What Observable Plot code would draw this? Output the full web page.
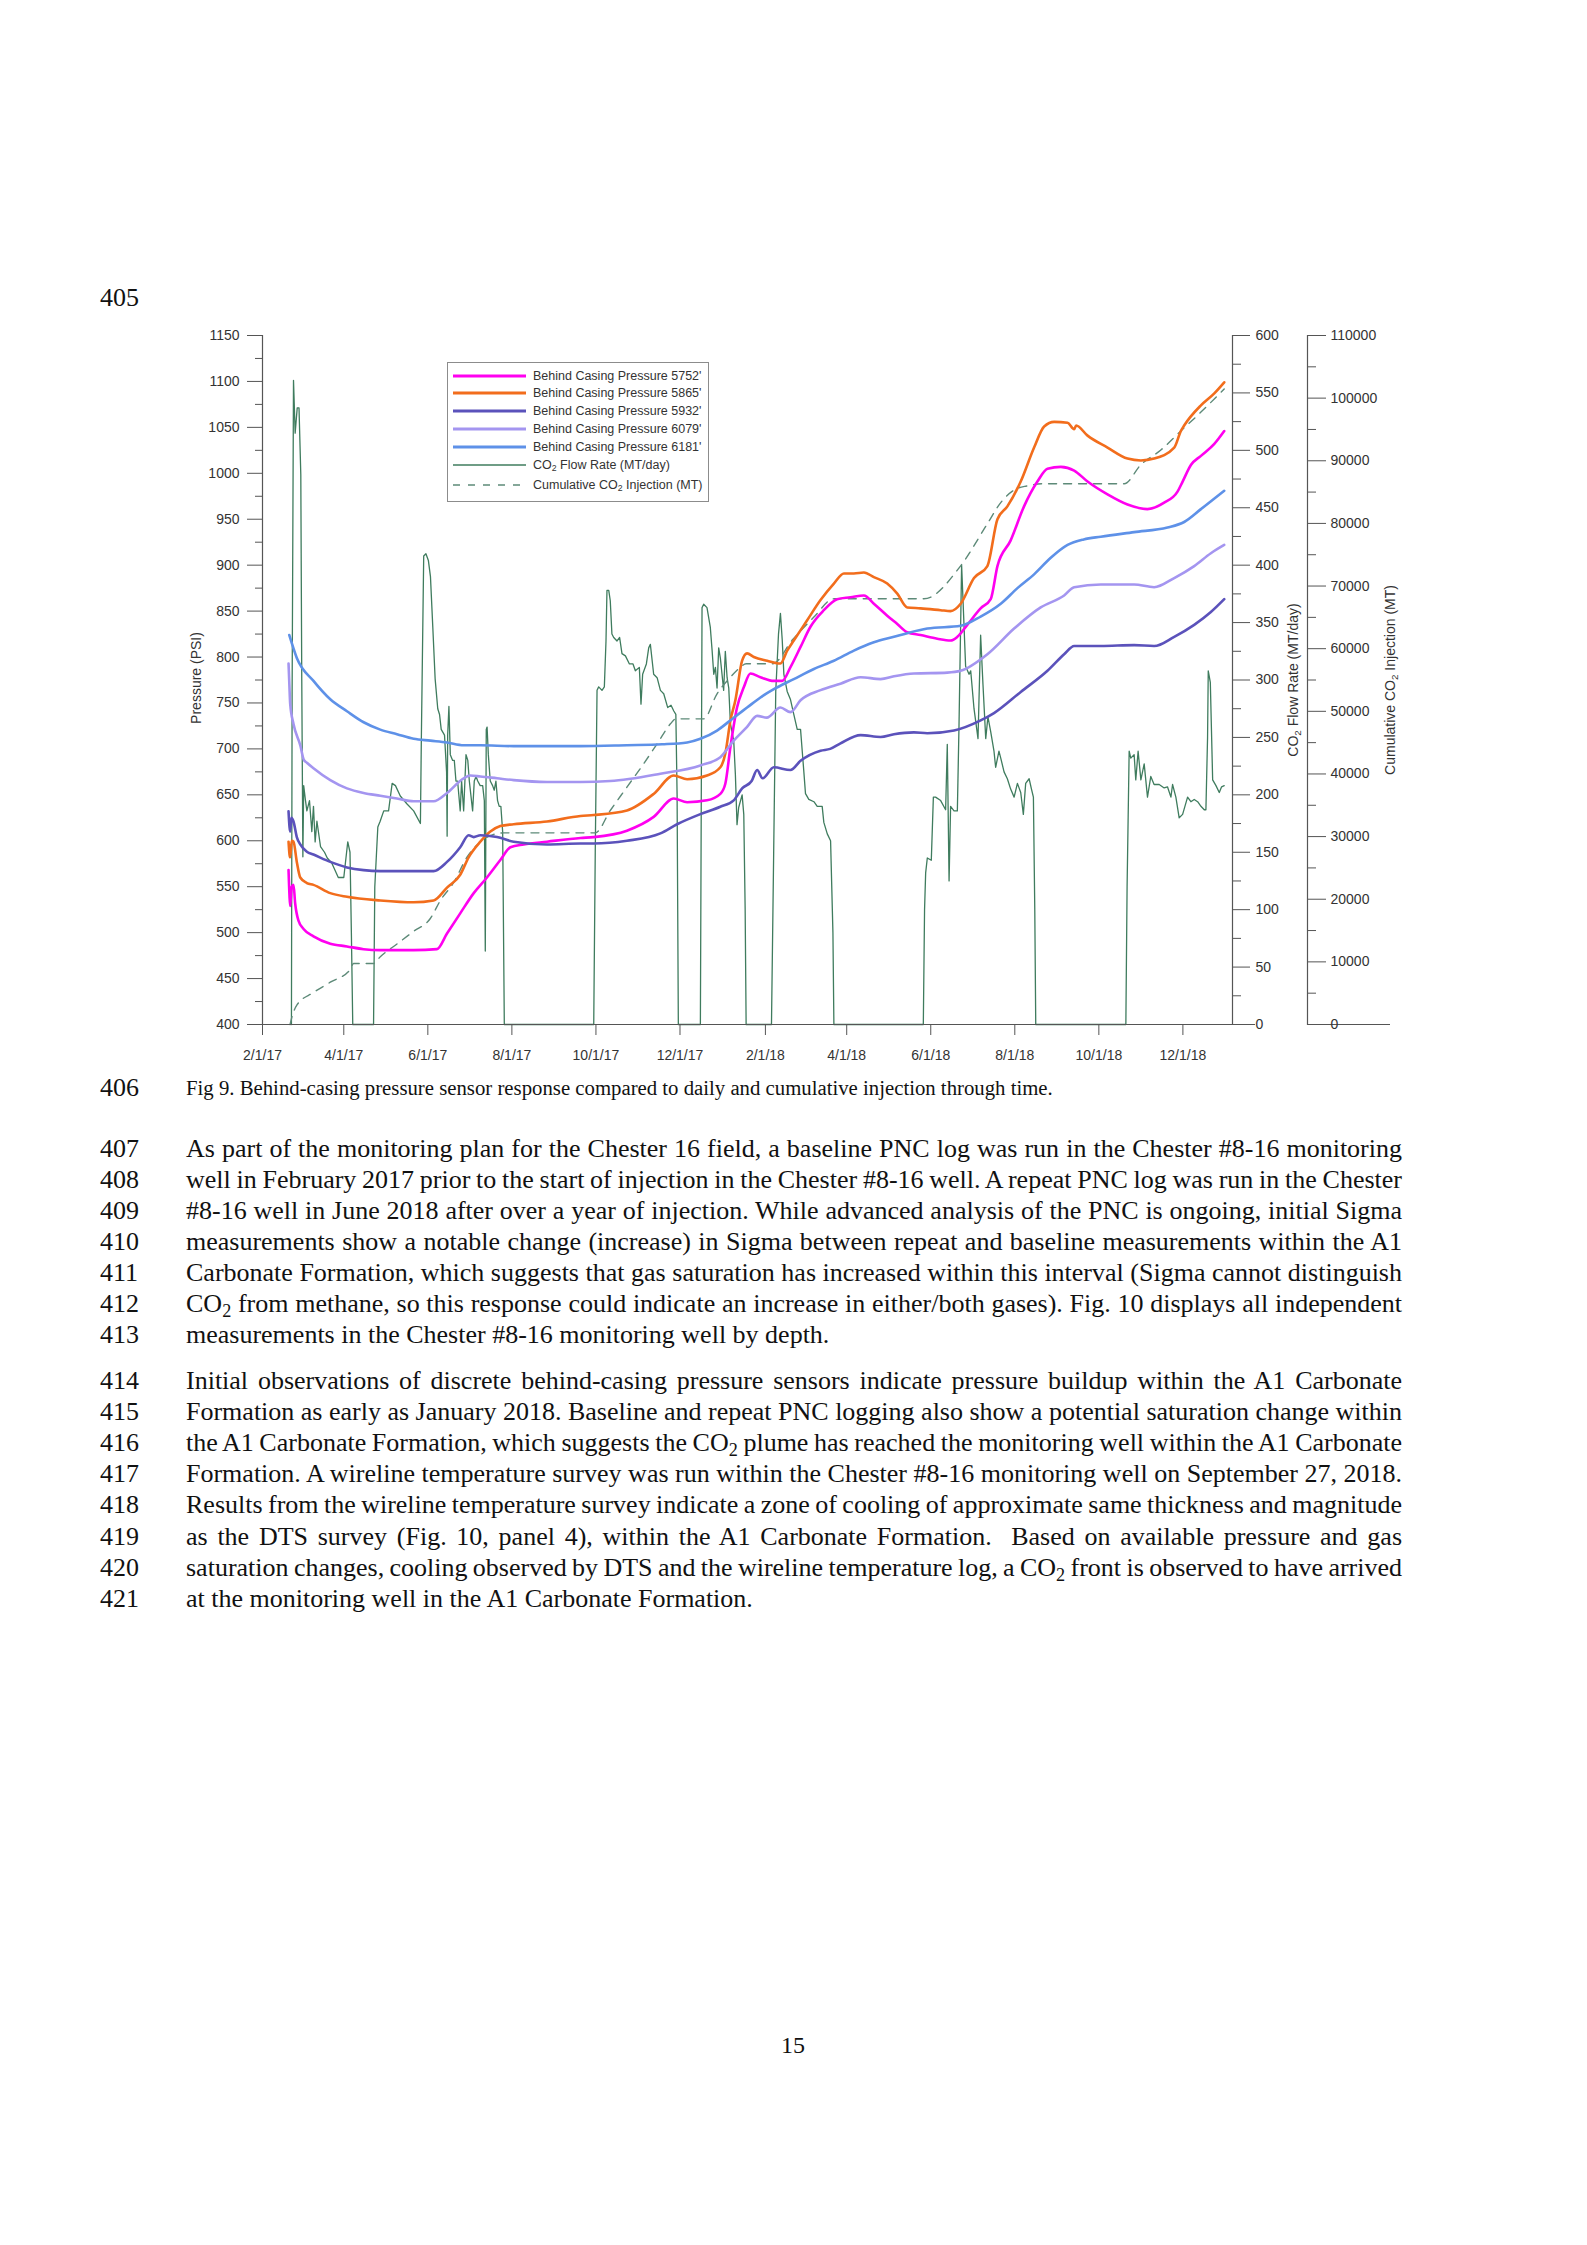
<!DOCTYPE html>
<html><head><meta charset="utf-8">
<script src="https://cdn.jsdelivr.net/npm/d3@7"></script>
<script src="https://cdn.jsdelivr.net/npm/@observablehq/plot@0.6"></script>
<style>
html,body{margin:0;padding:0;background:#fff;}
#page{position:relative;width:1587px;height:2245px;overflow:hidden;font-family:"Liberation Serif","Times New Roman",serif;color:#111;}
.txt{position:absolute;white-space:nowrap;}
.layer{position:absolute;left:0;top:300px;}
.layer svg{display:block;}
.atitle{position:absolute;font-family:"Liberation Sans",Arial,sans-serif;font-size:14px;color:#333;white-space:nowrap;transform:translate(-50%,-50%) rotate(-90deg);}
.sub{font-size:0.7em;position:relative;top:0.3em;}
#legend{position:absolute;left:447px;top:362px;width:260px;height:138px;border:1.5px solid #8c8c8c;background:#fff;}
.lrow{position:absolute;left:0;height:16px;font-family:"Liberation Sans",Arial,sans-serif;font-size:12.5px;color:#333;white-space:nowrap;}
.lrow svg{position:absolute;left:5px;top:0;}
.lrow span.lt{position:absolute;left:85px;top:0;line-height:16px;}
</style></head>
<body><div id="page"></div>
<script>
// ---------------- data (day offset from 2/1/17, value) ----------------
const dayZero = Date.UTC(2017, 1, 1);
const xTickLabels = ["2/1/17","4/1/17","6/1/17","8/1/17","10/1/17","12/1/17","2/1/18","4/1/18","6/1/18","8/1/18","10/1/18","12/1/18"];
const xDomainEnd = "2019-01-06";
const pressureTicks = [400,450,500,550,600,650,700,750,800,850,900,950,1000,1050,1100,1150];
const flowTicks = [0,50,100,150,200,250,300,350,400,450,500,550,600];
const cumTicks = [0,10000,20000,30000,40000,50000,60000,70000,80000,90000,100000,110000];

const p5752 = [[18.9,568],[19.6,540],[20.1,529],[21.2,550],[22.5,552],[23.7,532],[26.1,513],[29.8,504],[37,496],[49.2,488],[61.3,485],[73.4,482],[85.5,481],[109.7,481],[126.6,482],[133.9,499],[143.5,521],[153.3,543],[162.9,560],[172.6,579],[179.9,593],[189.6,596],[206.5,599],[230.8,603],[240.4,604],[264.5,611],[283.9,626],[298.5,646],[308.2,642],[322.6,644],[332.3,651],[335.9,662],[339.6,702],[344.4,745],[349.3,767],[354.1,782],[361.4,778],[371.1,774],[377.2,774],[383.2,789],[390.5,811],[397.7,833],[407.4,851],[417.1,863],[426.8,865],[436.5,867],[443.7,858],[453.4,845],[460.7,836],[467.9,827],[477.6,824],[489.7,820],[499.4,818],[504.3,822],[511.5,835],[521.2,853],[528.5,863],[533.4,899],[543,927],[552.7,964],[562.4,991],[569.7,1005],[579.4,1007],[589.1,1003],[598.8,991],[613.3,977],[627.8,966],[642.3,961],[654.4,968],[664.1,980],[667.8,991],[673.8,1009],[681.1,1019],[690.8,1032],[698,1046]];
const p5865 = [[18.9,599],[19.6,585],[20.1,582],[21.2,600],[22.5,599],[24.9,577],[27.4,560],[32.2,554],[37,552],[49.2,543],[61.3,539],[85.5,535],[109.7,533],[124.2,535],[133.9,549],[143.5,563],[149.6,582],[158.1,599],[165.4,610],[172.6,616],[182.3,618],[206.5,621],[230.8,627],[240.4,628],[264.5,633],[283.9,651],[298.5,671],[308.2,667],[322.6,671],[332.3,680],[335.9,695],[339.6,731],[343.2,753],[348.1,796],[351.7,804],[356.6,800],[366.3,796],[375.9,793],[380.8,807],[385.6,818],[395.3,840],[405,862],[414.7,880],[422,891],[429.2,891],[436.5,892],[443.7,887],[453.4,880],[460.7,869],[467.9,854],[477.6,853],[492.2,851],[499.4,850],[506.7,858],[516.4,886],[526.1,899],[533.4,950],[540.6,964],[550.3,991],[560,1028],[567.3,1051],[574.6,1056],[584.3,1055],[589.1,1048],[590.5,1052],[598.8,1041],[613.3,1028],[627.8,1016],[637.5,1014],[647.1,1016],[661.7,1028],[666.5,1046],[668.9,1052],[681.1,1074],[690.8,1087],[698,1099]];
const p5932 = [[18.9,632],[19.6,615],[20.1,610],[21,625],[22.5,621],[24.9,604],[27.4,596],[32.2,588],[37,585],[49.2,577],[61.3,571],[73.4,568],[85.5,567],[109.7,567],[124.2,567],[133.9,577],[143.5,593],[149.6,606],[153.3,604],[158.1,606],[170.2,604],[182.3,599],[206.5,596],[230.8,597],[240.4,597],[264.5,600],[288.8,608],[300.9,618],[317.8,629],[332.3,637],[342,644],[348.1,657],[355,665],[359,677],[363,668],[371.1,680],[383.2,677],[390.5,687],[405,698],[412,700],[419.5,706],[434.1,715],[448.6,713],[458.3,716],[472.8,718],[482.5,717],[501.9,720],[521.2,731],[530.9,739],[550.3,762],[569.7,785],[581.8,803],[589.1,812],[608.4,812],[632.6,813],[647.1,812],[661.7,822],[676.2,835],[688.3,849],[698,863]];
const p6079 = [[18.9,793],[19.5,770],[20.1,749],[22.5,727],[27.4,704],[30,688],[32.2,685],[37,679],[49.2,666],[61.3,657],[73.4,652],[85.5,649],[97.6,646],[109.7,643],[124.2,643],[133.9,652],[146,668],[150.8,671],[158.1,670],[170.2,668],[182.3,666],[206.5,664],[230.8,664],[252.4,665],[288.8,673],[317.8,682],[332.3,691],[342,709],[351.7,724],[359,736],[366,734],[375.9,745],[383.2,740],[390.5,753],[405,764],[419.5,771],[434.1,778],[448.6,776],[458.3,779],[472.8,782],[497,783],[506.7,785],[526.1,803],[545.5,831],[564.8,854],[581.8,867],[589.1,876],[608.4,879],[632.6,879],[647.1,876],[661.7,886],[676.2,899],[688.3,913],[698,922]];
const p6181 = [[19.4,824],[24.9,799],[37,774],[49.2,754],[61.3,741],[73.4,729],[85.5,721],[97.6,716],[109.7,711],[121.8,709],[133.9,707],[146,704],[158.1,704],[182.3,703],[206.5,703],[230.8,703],[264.5,704],[290,705],[308.2,707],[317.8,711],[329.9,720],[342,734],[351.7,745],[361.4,756],[371.1,765],[385.6,776],[400.2,787],[414.7,796],[429.2,807],[443.7,816],[458.3,822],[467.9,826],[482.5,831],[506.7,834],[521.2,844],[535.8,858],[547.9,875],[560,890],[572.1,908],[584.3,922],[596,928],[608.4,931],[632.6,936],[656.8,941],[668.9,947],[681.1,961],[698,981]];
const flowRate = [[21,0],[21.5,290],[22.5,561],[23.7,515],[25.2,537],[26.5,537],[27.8,479],[28.5,300],[29.3,146],[29.9,208],[31.2,195],[32.2,186],[34.1,195],[35.8,168],[37,190],[38.2,159],[39.5,177],[42.1,155],[45,150],[47,145],[50.1,141],[55,128],[59,128],[61.5,155],[61.9,159],[63.5,150],[64.5,80],[65.5,0],
[80.6,0],[81.5,120],[83.7,172],[85.4,177],[88,186],[91.5,186],[94.1,210],[96.5,208],[100,199],[104.9,192],[109.7,186],[114.6,175],[115.3,250],[117,408],[118.6,410],[120.4,404],[121.9,390],[123.6,346],[125.3,301],[127.2,275],[128.5,270],[129.7,257],[132.1,252],[133.6,220],[134,164],[134.4,252],[135.3,277],[136.3,235],[138,230],[139.2,230],[140.4,212],[141.6,212],[143.5,186],[144.5,212],[146,186],[147.7,235],[149,230],[150.1,212],[152.5,186],[153.7,212],[155,216],[156.2,212],[158,208],[159.8,208],[161,195],[161.7,64],[162.4,257],[163,259],[163.9,235],[165.3,212],[167,208],[168.2,204],[169.4,212],[170.6,195],[171.8,190],[173,190],[174.3,168],[175.5,0],
[240.4,0],[241.5,150],[242.8,291],[244,294],[246.4,291],[248.1,294],[249.3,334],[250,378],[251.3,378],[252.4,369],[253.6,340],[254.9,337],[257.3,334],[259.2,337],[260.9,323],[263.4,321],[266.3,314],[268.9,314],[270.6,308],[273.5,311],[274.7,279],[275.9,305],[278.6,314],[280.3,328],[281.5,331],[283.9,305],[286.4,302],[288.8,291],[291.2,288],[294.1,276],[296.5,278],[298.5,273],[300,270],[300.9,200],[301.8,0],
[317.8,0],[319,363],[320.2,366],[322.6,363],[325,346],[326.3,326],[327.5,305],[328.7,311],[329.9,293],[331.1,328],[332.3,319],[333.5,305],[334.7,291],[335.9,325],[337.2,302],[338.4,293],[339.6,262],[342,247],[343.2,218],[344.4,174],[345.6,189],[348.1,200],[349.3,183],[350.3,100],[351,0],
[369.4,0],[371,150],[372.5,290],[374.5,340],[375.9,358],[377.2,335],[378.4,305],[380.8,290],[383.2,283],[385.6,270],[388.1,257],[390.5,257],[392.9,220],[394.1,201],[396.5,196],[400.2,194],[402.6,190],[406.2,190],[407.4,176],[409.9,166],[412.3,160],[414,80],[414.7,0],
[479.6,0],[480.5,100],[481.3,132],[482.5,145],[485.4,143],[486.9,198],[488.5,198],[492.2,195],[495.8,187],[497,244],[498.3,125],[499.4,190],[501.9,186],[504.3,186],[505.5,260],[507.4,400],[508.4,370],[510.3,312],[512.8,305],[514,308],[516.4,275],[519.3,249],[521.2,339],[522.9,296],[524.9,249],[526.5,268],[528.5,255],[530.9,238],[532.1,224],[534.5,238],[535.8,232],[538.2,220],[540.6,214],[543,205],[545.5,198],[547.9,210],[550.3,202],[552.2,183],[553.9,210],[556.4,214],[558.1,205],[559.5,198],[560.5,100],[561.2,0],
[626.6,0],[627.5,120],[629,238],[630.2,232],[632.6,235],[633.8,213],[635.5,238],[637.5,213],[639.9,227],[642.3,198],[644.7,216],[647.1,209],[650.8,209],[654.4,206],[656.8,207],[659.3,198],[660.5,209],[662.9,198],[665.3,180],[667.8,183],[671.4,198],[673.8,194],[676.2,196],[678.7,194],[681.1,190],[683.5,187],[684.7,187],[685.9,250],[686.4,308],[687.9,298],[689.6,213],[692,208],[694.4,202],[696.1,207],[698,208]];
const cumInjection = [[20,0],[21,900],[24.9,3080],[37,5110],[49.2,6750],[63.7,8780],[66.1,9750],[80.6,9750],[85.5,10820],[97.6,12850],[109.7,14880],[121.8,16920],[129.1,19800],[138.7,22640],[148.4,26710],[158.1,29150],[167.8,30360],[175,30600],[241.5,30600],[252.4,34165],[264.5,37890],[276.6,41620],[286.4,44810],[296.1,48000],[300,48800],[320.2,48800],[329.9,52800],[339.6,55450],[346.9,57040],[351,57600],[370,57600],[385,61500],[400,65000],[414.7,67960],[480,67960],[506.7,73230],[526.1,79950],[535.8,83320],[545.5,85330],[555.2,86000],[567.3,86340],[625.4,86340],[637.5,89370],[652,91720],[666.5,94750],[681.1,97770],[698,101470]];

const seriesNames = ["Behind Casing Pressure 5752'","Behind Casing Pressure 5865'","Behind Casing Pressure 5932'","Behind Casing Pressure 6079'","Behind Casing Pressure 6181'"];
const seriesColors = ["#ff00f0","#f26d1c","#5b52bb","#a495f0","#5e91e8"];
const seriesData = [p5752,p5865,p5932,p6079,p6181];
const flowColor = "#3f7c5e", cumColor = "#5d8a78";

// ---------------- charts ----------------
const toDate = d => new Date(dayZero + d * 864e5);
const parseTick = s => { const [m, d, y] = s.split("/").map(Number); return new Date(Date.UTC(2000 + y, m - 1, d)); };
const xTicks = xTickLabels.map(parseTick);
const fmt = d3.utcFormat("%-m/%-d/%y");
const W = 1587, H = 800, ML = 262, MR = 355, MT = 35, MB = 76;
const style = {background: "transparent", fontFamily: "Liberation Sans, Arial, sans-serif", fontSize: "14px", color: "#333", overflow: "visible"};
const common = {width: W, height: H, marginLeft: ML, marginRight: MR, marginTop: MT, marginBottom: MB, style};
const xScale = {type: "utc", domain: [toDate(0), new Date(xDomainEnd)]};
const minorOf = (ticks) => ticks.slice(0, -1).map((t, i) => (t + ticks[i + 1]) / 2);
const AX = "#555";

const flowPlot = Plot.plot({...common, x: {...xScale, axis: null}, y: {domain: [0, 600]},
  marks: [
    Plot.line(flowRate, {x: d => toDate(d[0]), y: d => d[1], stroke: flowColor, strokeWidth: 1.3}),
    Plot.frame({anchor: "right", stroke: AX, strokeWidth: 1.2}),
    Plot.ruleY([0], {dx: 23, stroke: AX, strokeWidth: 1.2}),
    Plot.axisY(flowTicks, {anchor: "right", tickSize: 17, tickPadding: 6, stroke: AX, tickFormat: d3.format("d")}),
    Plot.axisY(minorOf(flowTicks), {anchor: "right", tickSize: 8, stroke: AX, tickFormat: () => ""})
  ]});

const cumPlot = Plot.plot({...common, x: {...xScale, axis: null}, y: {domain: [0, 110000], axis: null},
  marks: [
    Plot.line(cumInjection, {x: d => toDate(d[0]), y: d => d[1], stroke: cumColor, strokeWidth: 1.4, strokeDasharray: "8,7", curve: "monotone-x"})
  ]});

const mainPlot = Plot.plot({...common, x: xScale, y: {domain: [400, 1150]},
  marks: [
    ...seriesData.map((data, i) => Plot.line(data, {x: d => toDate(d[0]), y: d => d[1], stroke: seriesColors[i], strokeWidth: 2.6, curve: "monotone-x"})),
    Plot.frame({anchor: "left", stroke: AX, strokeWidth: 1.2}),
    Plot.frame({anchor: "bottom", stroke: AX, strokeWidth: 1.2}),
    Plot.axisY(pressureTicks, {anchor: "left", tickSize: 15, tickPadding: 8, stroke: AX, tickFormat: d3.format("d")}),
    Plot.axisY(minorOf(pressureTicks), {anchor: "left", tickSize: 7, stroke: AX, tickFormat: () => ""}),
    Plot.axisX(xTicks, {anchor: "bottom", tickSize: 11, tickPadding: 15, stroke: AX, tickFormat: fmt})
  ]});

const cumAxisPlot = Plot.plot({width: W, height: H, marginLeft: 1224, marginRight: 280, marginTop: MT, marginBottom: MB, style,
  y: {domain: [0, 110000]},
  marks: [
    Plot.frame({anchor: "right", stroke: AX, strokeWidth: 1.2}),
    Plot.ruleY([0], {dx: 83, stroke: AX, strokeWidth: 1.2}),
    Plot.axisY(cumTicks, {anchor: "right", tickSize: 18, tickPadding: 5, stroke: AX, tickFormat: d3.format("d")}),
    Plot.axisY(minorOf(cumTicks), {anchor: "right", tickSize: 8, stroke: AX, tickFormat: () => ""})
  ]});

const page = document.getElementById("page");
for (const p of [flowPlot, cumPlot, mainPlot, cumAxisPlot]) {
  const div = document.createElement("div"); div.className = "layer"; div.appendChild(p); page.appendChild(div);
}

// axis titles
function atitle(html, cx, cy) { const el = document.createElement("div"); el.className = "atitle"; el.innerHTML = html; el.style.left = cx + "px"; el.style.top = cy + "px"; page.appendChild(el); }
atitle("Pressure (PSI)", 196, 678);
atitle('CO<span class="sub">2</span> Flow Rate (MT/day)', 1293, 680);
atitle('Cumulative CO<span class="sub">2</span> Injection (MT)', 1390, 680);

// legend
const legend = document.createElement("div"); legend.id = "legend"; page.appendChild(legend);
const legendItems = seriesNames.map((n, i) => ({label: n, color: seriesColors[i], w: 3, dash: null}))
  .concat([{label: 'CO<span class="sub">2</span> Flow Rate (MT/day)', color: flowColor, w: 1.3, dash: null},
           {label: 'Cumulative CO<span class="sub">2</span> Injection (MT)', color: cumColor, w: 1.4, dash: "7,8"}]);
const rowCenters = [376, 393.5, 411, 429, 447, 465, 485];
legendItems.forEach((it, i) => {
  const row = document.createElement("div"); row.className = "lrow";
  row.style.top = (rowCenters[i] - 362 - 1.5 - 8) + "px"; row.style.width = "258px";
  row.innerHTML = `<svg width="76" height="16"><line x1="0" x2="73" y1="8" y2="8" stroke="${it.color}" stroke-width="${it.w}" ${it.dash ? `stroke-dasharray="${it.dash}"` : ""}/></svg><span class="lt">${it.label}</span>`;
  legend.appendChild(row);
});

// page text
function place(html, left, cy, fs) {
  const el = document.createElement("div"); el.className = "txt"; el.innerHTML = html;
  el.style.left = left + "px"; el.style.fontSize = fs + "px"; el.style.lineHeight = fs + "px"; el.style.top = (cy - fs / 2) + "px";
  page.appendChild(el); return el;
}
function justify(el, target) {
  const w = el.getBoundingClientRect().width; const n = (el.textContent.match(/[ \u00a0]/g) || []).length;
  if (n) el.style.wordSpacing = ((target - w) / n) + "px";
}
const co2 = 'CO<span class="sub">2</span>';
const LEFT = 186, TW = 1216;
place("405", 100, 298, 26);
place("406", 100, 1088, 26);
const cap = place("Fig 9. Behind-casing pressure sensor response compared to daily and cumulative injection through time.", LEFT, 1088, 21);
{ const w = cap.getBoundingClientRect().width; const fs = Math.max(18, Math.min(23, 21 * 867 / w)); cap.style.fontSize = fs + "px"; cap.style.lineHeight = fs + "px"; cap.style.top = (1088 - fs / 2) + "px"; }
const para = [
  [407, 1148.7, "As part of the monitoring plan for the Chester 16 field, a baseline PNC log was run in the Chester #8-16 monitoring", true],
  [408, 1179.7, "well in February 2017 prior to the start of injection in the Chester #8-16 well. A repeat PNC log was run in the Chester", true],
  [409, 1210.7, "#8-16 well in June 2018 after over a year of injection. While advanced analysis of the PNC is ongoing, initial Sigma", true],
  [410, 1241.7, "measurements show a notable change (increase) in Sigma between repeat and baseline measurements within the A1", true],
  [411, 1272.7, "Carbonate Formation, which suggests that gas saturation has increased within this interval (Sigma cannot distinguish", true],
  [412, 1303.7, co2 + " from methane, so this response could indicate an increase in either/both gases). Fig. 10 displays all independent", true],
  [413, 1334.7, "measurements in the Chester #8-16 monitoring well by depth.", false],
  [414, 1381, "Initial observations of discrete behind-casing pressure sensors indicate pressure buildup within the A1 Carbonate", true],
  [415, 1412, "Formation as early as January 2018. Baseline and repeat PNC logging also show a potential saturation change within", true],
  [416, 1443, "the A1 Carbonate Formation, which suggests the " + co2 + " plume has reached the monitoring well within the A1 Carbonate", true],
  [417, 1474.3, "Formation. A wireline temperature survey was run within the Chester #8-16 monitoring well on September 27, 2018.", true],
  [418, 1505.4, "Results from the wireline temperature survey indicate a zone of cooling of approximate same thickness and magnitude", true],
  [419, 1536.5, "as the DTS survey (Fig. 10, panel 4), within the A1 Carbonate Formation.&nbsp; Based on available pressure and gas", true],
  [420, 1567.6, "saturation changes, cooling observed by DTS and the wireline temperature log, a " + co2 + " front is observed to have arrived", true],
  [421, 1598.7, "at the monitoring well in the A1 Carbonate Formation.", false]
];
for (const [num, cy, html, just] of para) {
  place(String(num), 100, cy, 26);
  const el = place(html, LEFT, cy, 26);
  if (just) justify(el, TW);
}
place("15", 781, 2045, 24);
</script>
</body></html>
